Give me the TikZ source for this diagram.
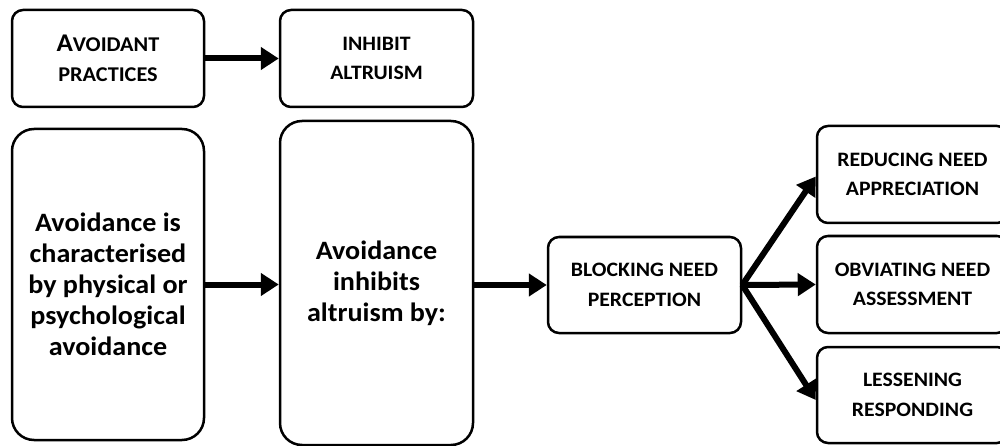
\documentclass[tikz,border=0pt]{standalone}
\usepackage{fontspec}
\setmainfont[FakeStretch=1.06]{Carlito}
\usetikzlibrary{arrows.meta}

\begin{document}
\begin{tikzpicture}[x=1pt,y=-1pt,
  box/.style={draw=black,line width=2.5pt,rounded corners=11pt,fill=white,
    inner sep=0pt,align=center,font=\bfseries},
  smallbox/.style={box,minimum width=192pt,minimum height=97pt},
  tallbox/.style={box,rounded corners=22pt,minimum width=192pt},
  capsfont/.style={font=\bfseries\fontsize{20.5}{29.5}\selectfont},
  bigfont/.style={font=\bfseries\fontsize{26.5}{31}\selectfont},
  flow/.style={line width=6pt,-{Triangle[length=18pt,width=22pt]}},
]
\clip (0,0) rectangle (1000,446);
\useasboundingbox (0,0) rectangle (1000,446);

% top row
\node[smallbox,font=\bfseries\fontsize{21}{30}\selectfont] (avoid) at (108,58.5)
  {{\fontsize{25.5}{30}\selectfont A}VOIDANT\\PRACTICES};
\node[smallbox,capsfont,minimum width=193pt] (inhibit) at (376.5,58.5)
  {INHIBIT\\ALTRUISM};

% main row
\node[tallbox,bigfont,minimum height=311pt] (charac) at (108,284.5)
  {Avoidance is\\characterised\\by physical or\\psychological\\avoidance};
\node[tallbox,bigfont,minimum width=193pt,minimum height=324pt] (by) at (376.5,283)
  {Avoidance\\inhibits\\altruism by:};
\node[smallbox,capsfont,minimum width=193pt,minimum height=96pt] (block) at (644.5,285)
  {BLOCKING NEED\\PERCEPTION};

% outcomes
\node[smallbox,capsfont,minimum width=191pt] (reduce) at (912.5,174.5)
  {REDUCING NEED\\APPRECIATION};
\node[smallbox,capsfont,minimum width=191pt] (obviate) at (912.5,284.5)
  {OBVIATING NEED\\ASSESSMENT};
\node[smallbox,capsfont,minimum width=191pt,minimum height=96pt] (lessen) at (912.5,395)
  {LESSENING\\RESPONDING};

% connectors
\draw[flow] (avoid.east) -- (inhibit.west);
\draw[flow] (charac.east) -- (charac.east -| by.west);
\draw[flow] (by.east |- block.west) -- (block.west);
\coordinate (fan) at (block.east);
\draw[flow] (fan) -- ([yshift=-2pt]reduce.west);
\draw[flow] (fan) -- (obviate.west);
\draw[flow] (fan) -- ([yshift=-5pt]lessen.west);
\end{tikzpicture}
\end{document}
